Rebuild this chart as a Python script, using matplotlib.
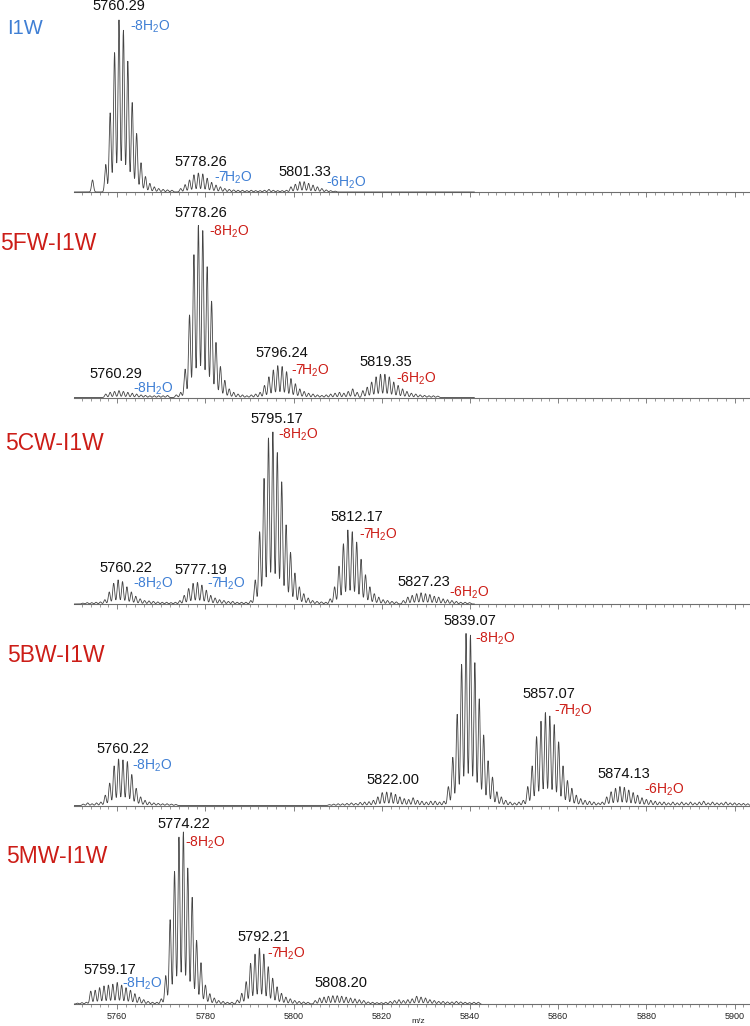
import numpy as np
import matplotlib
matplotlib.use('Agg')
import matplotlib.pyplot as plt
from matplotlib.ticker import MultipleLocator, FixedLocator

plt.rcParams['font.family'] = ['Liberation Sans', 'DejaVu Sans']
plt.rcParams['mathtext.fontset'] = 'custom'
plt.rcParams['mathtext.rm'] = 'Liberation Sans'
plt.rcParams['mathtext.it'] = 'Liberation Sans:italic'
plt.rcParams['mathtext.bf'] = 'Liberation Sans:bold'
plt.rcParams['mathtext.default'] = 'regular'

# ---------------- data ----------------
SAMPLES = ['I1W', '5FW-I1W', '5CW-I1W', '5BW-I1W', '5MW-I1W']
TICKS = [5760, 5780, 5800, 5820, 5840, 5860, 5880, 5900]
XLABEL = 'm/z'

# each cluster: first isotope m/z and relative isotope heights (1 Da apart)
I1W_STARTS = [5754.4, 5757.4, 5774.4, 5798.4]
I1W_HEIGHTS = [
    [0.07],
    [0.16, 0.46, 0.81, 1.0, 0.94, 0.76, 0.52, 0.34, 0.17, 0.09, 0.05, 0.03, 0.02, 0.015, 0.012, 0.01],
    [0.02, 0.043, 0.07, 0.10, 0.11, 0.105, 0.08, 0.056, 0.04, 0.03, 0.02, 0.015, 0.012, 0.01,
     0.01, 0.008, 0.01, 0.008, 0.008, 0.01, 0.015, 0.01, 0.008, 0.008],
    [0.01, 0.03, 0.045, 0.06, 0.06, 0.05, 0.04, 0.03, 0.02, 0.012, 0.008, 0.005],
]
I1W_MASSES = ['5760.29', '5778.26', '5801.33']
I1W_LOSSES = ['-8H$_2$O', '-7H$_2$O', '-6H$_2$O']

FW_STARTS = [5757.4, 5773.4, 5789.4, 5792.4, 5806.4, 5815.7]
FW_HEIGHTS = [
    [0.02, 0.03, 0.035, 0.04, 0.035, 0.03, 0.025, 0.02, 0.015, 0.012, 0.01, 0.01, 0.01, 0.01, 0.012],
    [0.015, 0.03, 0.165, 0.48, 0.83, 1.0, 0.97, 0.76, 0.56, 0.32, 0.18, 0.10, 0.05, 0.03, 0.02, 0.015],
    [0.01, 0.015, 0.02],
    [0.03, 0.07, 0.12, 0.16, 0.185, 0.18, 0.15, 0.11, 0.08, 0.05, 0.035, 0.025, 0.02, 0.015],
    [0.012, 0.015, 0.02, 0.025, 0.03, 0.025, 0.035, 0.05, 0.03],
    [0.04, 0.06, 0.09, 0.12, 0.135, 0.135, 0.12, 0.09, 0.07, 0.05, 0.035, 0.025, 0.02, 0.015,
     0.012, 0.01, 0.01, 0.008],
]
FW_MASSES = ['5778.26', '5760.29', '5796.24', '5819.35']
FW_LOSSES = ['-8H$_2$O', '-8H$_2$O', '-7H$_2$O', '-6H$_2$O']

CW_STARTS = [5752.2, 5757.2, 5774.2, 5790.3, 5807.3, 5824.9]
CW_HEIGHTS = [
    [0.005, 0.008, 0.008, 0.01, 0.012],
    [0.025, 0.07, 0.12, 0.14, 0.13, 0.10, 0.07, 0.045, 0.03, 0.02, 0.018, 0.015, 0.012, 0.01, 0.01, 0.008, 0.01],
    [0.02, 0.05, 0.09, 0.12, 0.125, 0.11, 0.08, 0.05, 0.035, 0.025, 0.02, 0.015, 0.015, 0.01, 0.01, 0.01],
    [0.02, 0.14, 0.42, 0.73, 0.965, 1.0, 0.88, 0.71, 0.46, 0.30, 0.18, 0.10, 0.06, 0.035, 0.02, 0.015, 0.012],
    [0.01, 0.03, 0.10, 0.22, 0.35, 0.43, 0.42, 0.36, 0.26, 0.17, 0.10, 0.06, 0.04, 0.025, 0.02, 0.015, 0.012],
    [0.02, 0.04, 0.05, 0.06, 0.065, 0.06, 0.055, 0.045, 0.04, 0.03, 0.025, 0.02, 0.015, 0.01, 0.01, 0.008],
]
CW_MASSES = ['5795.17', '5760.22', '5777.19', '5812.17', '5827.23']
CW_LOSSES = ['-8H$_2$O', '-8H$_2$O', '-7H$_2$O', '-7H$_2$O', '-6H$_2$O']

BW_STARTS = [5752.3, 5757.3, 5808.1, 5835.1, 5852.1, 5870.0]
BW_HEIGHTS = [
    [0.008, 0.015, 0.01, 0.015, 0.02],
    [0.06, 0.13, 0.23, 0.27, 0.265, 0.255, 0.18, 0.10, 0.05, 0.03, 0.02, 0.015, 0.012, 0.01, 0.01, 0.008, 0.006],
    [0.005, 0.008, 0.01, 0.01, 0.012, 0.015, 0.012, 0.018, 0.02, 0.022, 0.03, 0.05, 0.075, 0.078,
     0.075, 0.065, 0.05, 0.04, 0.035, 0.045, 0.03, 0.025, 0.02, 0.025, 0.025, 0.02, 0.025],
    [0.11, 0.28, 0.53, 0.82, 1.0, 0.99, 0.83, 0.62, 0.41, 0.26, 0.165, 0.08, 0.05, 0.03, 0.02, 0.015, 0.02],
    [0.03, 0.11, 0.23, 0.40, 0.49, 0.54, 0.52, 0.47, 0.37, 0.23, 0.145, 0.10, 0.06, 0.04, 0.03, 0.025, 0.02, 0.015],
    [0.02, 0.05, 0.08, 0.10, 0.11, 0.105, 0.09, 0.075, 0.06, 0.045, 0.035, 0.03, 0.025, 0.02, 0.02,
     0.015, 0.02, 0.015, 0.02, 0.015, 0.02, 0.015, 0.02, 0.025, 0.015, 0.02, 0.015, 0.015, 0.02,
     0.015, 0.015, 0.012, 0.012, 0.01],
]
BW_MASSES = ['5839.07', '5760.22', '5822.00', '5857.07', '5874.13']
BW_LOSSES = ['-8H$_2$O', '-8H$_2$O', '', '-7H$_2$O', '-6H$_2$O']

MW_STARTS = [5751.0, 5754.0, 5770.0, 5787.25, 5804.9, 5821.9]
MW_HEIGHTS = [
    [0.005, 0.008, 0.01],
    [0.075, 0.08, 0.095, 0.105, 0.11, 0.115, 0.125, 0.11, 0.095, 0.08, 0.06, 0.04, 0.025, 0.015, 0.01, 0.01],
    [0.03, 0.165, 0.49, 0.77, 0.97, 1.0, 0.79, 0.62, 0.37, 0.24, 0.11, 0.06, 0.035, 0.02, 0.015, 0.01, 0.01],
    [0.023, 0.062, 0.13, 0.236, 0.29, 0.324, 0.29, 0.217, 0.15, 0.10, 0.062, 0.04, 0.03, 0.02, 0.015, 0.012, 0.01],
    [0.02, 0.035, 0.04, 0.045, 0.048, 0.048, 0.045, 0.04, 0.035, 0.03, 0.025, 0.02, 0.012, 0.01, 0.008, 0.008, 0.01],
    [0.015, 0.02, 0.025, 0.02, 0.025, 0.03, 0.045, 0.04, 0.035, 0.025, 0.02, 0.015, 0.015, 0.012,
     0.012, 0.015, 0.012, 0.01, 0.008, 0.01, 0.01],
]
MW_MASSES = ['5774.22', '5759.17', '5792.21', '5808.20']
MW_LOSSES = ['-8H$_2$O', '-8H$_2$O', '-7H$_2$O', '']

# ---------------- layout / style ----------------
BLUE = '#3f7fd4'
RED = '#cc1d17'
TRACE = '#444444'
W, H = 750, 1026
SCALE = 172.0           # px per unit relative intensity
BASELINES = [192, 397.5, 604, 805.5, 1004]
TRACE_END = [5841, 5841, 5841, 5903.5, 5842.5]
TITLE_POS = [(7, 28.5, 14.5, BLUE), (0, 243, 16.5, RED), (5, 443, 16.5, RED),
             (7, 655, 16.5, RED), (6, 856.5, 16.5, RED)]
XLABEL_POS = (418, 1021.5)
# (mass label center x, center y) and (loss label left x, center y, colour) in data units
MASS_POS = [
    [(5760.3, 1.08), (5778.85, 0.176), (5802.45, 0.118)],
    [(5778.85, 1.074), (5759.6, 0.135), (5797.3, 0.257), (5820.85, 0.205)],
    [(5796.1, 1.074), (5761.9, 0.207), (5778.85, 0.198), (5814.25, 0.508), (5829.5, 0.13)],
    [(5840.05, 1.073), (5761.4, 0.327), (5822.5, 0.148), (5857.9, 0.648), (5875.0, 0.183)],
    [(5775.2, 1.047), (5758.3, 0.20), (5793.3, 0.388), (5810.7, 0.124)],
]
LOSS_POS = [
    [(5762.9, 0.96, BLUE), (5781.95, 0.085, BLUE), (5807.4, 0.054, BLUE)],
    [(5780.9, 0.964, RED), (5763.5, 0.049, BLUE), (5799.4, 0.156, RED), (5823.3, 0.11, RED)],
    [(5796.55, 0.983, RED), (5763.6, 0.12, BLUE), (5780.4, 0.116, BLUE), (5814.9, 0.40, RED), (5835.15, 0.068, RED)],
    [(5841.2, 0.972, RED), (5763.3, 0.23, BLUE), (0, 0, RED), (5859.0, 0.55, RED), (5879.4, 0.094, RED)],
    [(5775.4, 0.938, RED), (5761.1, 0.116, BLUE), (5793.9, 0.29, RED), (0, 0, RED)],
]

PANELS = [
    (I1W_STARTS, I1W_HEIGHTS, I1W_MASSES, I1W_LOSSES),
    (FW_STARTS, FW_HEIGHTS, FW_MASSES, FW_LOSSES),
    (CW_STARTS, CW_HEIGHTS, CW_MASSES, CW_LOSSES),
    (BW_STARTS, BW_HEIGHTS, BW_MASSES, BW_LOSSES),
    (MW_STARTS, MW_HEIGHTS, MW_MASSES, MW_LOSSES),
]

XMIN, XMAX = 5750.2, 5903.5
PEAK_SIGMA = 0.23   # drawing width of each isotope peak (Da)

fig = plt.figure(figsize=(W / 100, H / 100), dpi=100)

for i, (starts, heights, masses, losses) in enumerate(PANELS):
    yb = BASELINES[i]
    ax = fig.add_axes([74 / W, (H - yb) / H, 676 / W, SCALE / H])
    ax.set_xlim(XMIN, XMAX)
    ax.set_ylim(0, 1)

    # profile drawn from the isotope sticks
    x = np.arange(5750.3, TRACE_END[i], 0.02)
    y = np.zeros_like(x)
    for s, hs in zip(starts, heights):
        for k, h in enumerate(hs):
            m = s + k
            y += h * np.exp(-0.5 * ((x - m) / PEAK_SIGMA) ** 2)
    ax.plot(x, y, color=TRACE, lw=0.6, clip_on=False, zorder=3)

    for sp in ['top', 'left', 'right']:
        ax.spines[sp].set_visible(False)
    ax.spines['bottom'].set_color('#6e6e6e')
    ax.spines['bottom'].set_linewidth(0.8)
    ax.set_yticks([])
    ax.xaxis.set_major_locator(FixedLocator(TICKS))
    ax.xaxis.set_minor_locator(MultipleLocator(2))
    ax.tick_params(axis='x', which='major', length=3.5, width=0.6, color='#6e6e6e',
                   labelsize=6.5, pad=2.5, labelcolor='#222222')
    ax.tick_params(axis='x', which='minor', length=2, width=0.5, color='#6e6e6e')
    if i < len(PANELS) - 1:
        ax.tick_params(axis='x', which='major', labelbottom=False)
    else:
        fig.text(XLABEL_POS[0] / W, (H - XLABEL_POS[1]) / H, XLABEL, fontsize=6,
                 color='#222222', ha='center', va='center')
    ax.patch.set_alpha(0)

    tx, ty, tfs, tc = TITLE_POS[i]
    fig.text(tx / W, (H - ty) / H, SAMPLES[i], fontsize=tfs, color=tc,
             ha='left', va='center')

    for lab, (mx, my) in zip(masses, MASS_POS[i]):
        ax.text(mx, my, lab, fontsize=10.5, color='#111111', ha='center', va='center',
                clip_on=False, zorder=5)
    for lab, (lx, ly, lc) in zip(losses, LOSS_POS[i]):
        if lab:
            ax.text(lx, ly, lab, fontsize=10, color=lc, ha='left', va='center',
                    clip_on=False, zorder=5)

fig.savefig('out.png', dpi=100)
